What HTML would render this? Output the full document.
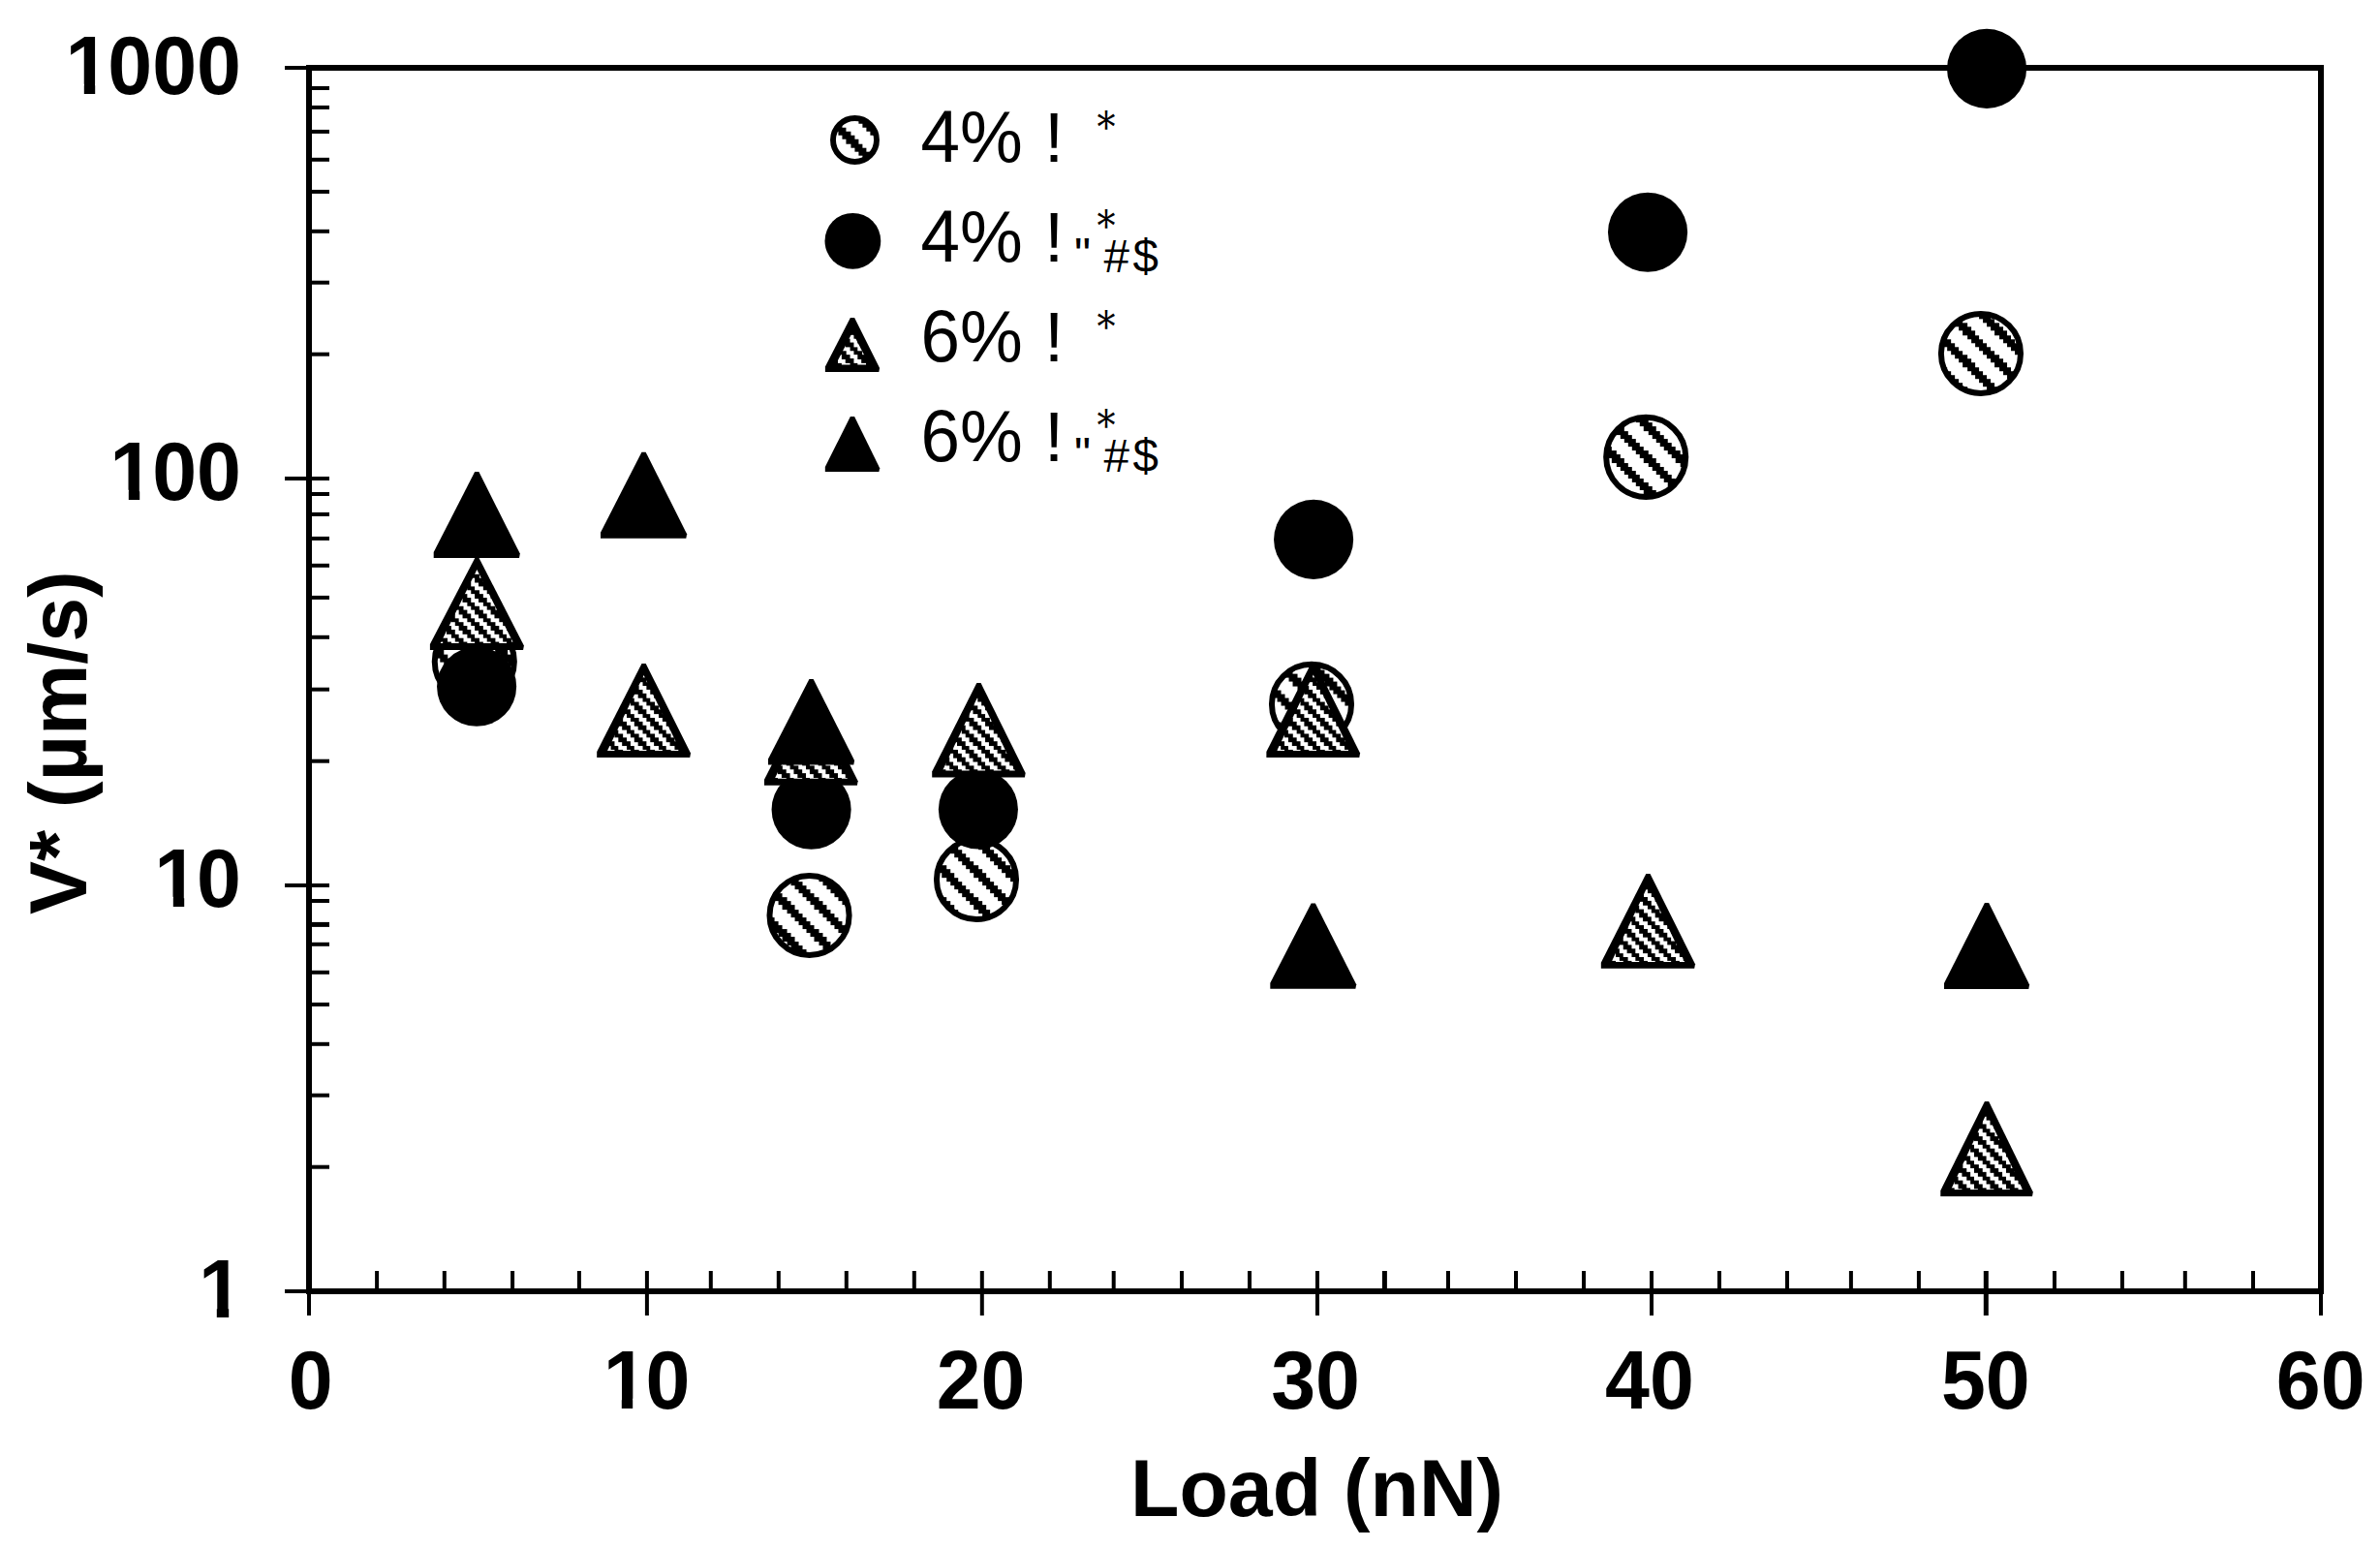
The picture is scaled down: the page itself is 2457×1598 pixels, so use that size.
<!DOCTYPE html>
<html lang="en"><head><meta charset="utf-8"><title>V* vs Load</title>
<style>html,body{margin:0;padding:0;background:#fff}body{width:2457px;height:1598px;overflow:hidden}svg{display:block}.b{font-family:"Liberation Sans",sans-serif;font-weight:700;font-size:82.5px;fill:#000}.r{font-family:"Liberation Sans",sans-serif;font-weight:400;fill:#000}.d{font-family:"DejaVu Serif",serif;font-weight:400;fill:#000}</style></head><body>
<svg width="2457" height="1598" viewBox="0 0 2457 1598">
<defs><pattern id="hw" width="32.9340" height="32.9340" patternUnits="userSpaceOnUse" patternTransform="translate(5.18 0)"><rect width="32.9340" height="32.9340" fill="#fff"/><g fill="#000" shape-rendering="crispEdges"><rect x="0.000" y="0.000" width="4.117" height="4.117"/><rect x="4.117" y="0.000" width="4.117" height="4.117"/><rect x="8.233" y="0.000" width="4.117" height="4.117"/><rect x="4.117" y="4.117" width="4.117" height="4.117"/><rect x="8.233" y="4.117" width="4.117" height="4.117"/><rect x="12.350" y="4.117" width="4.117" height="4.117"/><rect x="8.233" y="8.233" width="4.117" height="4.117"/><rect x="12.350" y="8.233" width="4.117" height="4.117"/><rect x="16.467" y="8.233" width="4.117" height="4.117"/><rect x="12.350" y="12.350" width="4.117" height="4.117"/><rect x="16.467" y="12.350" width="4.117" height="4.117"/><rect x="20.584" y="12.350" width="4.117" height="4.117"/><rect x="16.467" y="16.467" width="4.117" height="4.117"/><rect x="20.584" y="16.467" width="4.117" height="4.117"/><rect x="24.700" y="16.467" width="4.117" height="4.117"/><rect x="20.584" y="20.584" width="4.117" height="4.117"/><rect x="24.700" y="20.584" width="4.117" height="4.117"/><rect x="28.817" y="20.584" width="4.117" height="4.117"/><rect x="24.700" y="24.700" width="4.117" height="4.117"/><rect x="28.817" y="24.700" width="4.117" height="4.117"/><rect x="0.000" y="24.700" width="4.117" height="4.117"/><rect x="28.817" y="28.817" width="4.117" height="4.117"/><rect x="0.000" y="28.817" width="4.117" height="4.117"/><rect x="4.117" y="28.817" width="4.117" height="4.117"/></g></pattern><pattern id="hd" width="16.4670" height="16.4670" patternUnits="userSpaceOnUse" patternTransform="translate(8.7 0)"><rect width="16.4670" height="16.4670" fill="#fff"/><g fill="#000" shape-rendering="crispEdges"><rect x="0.000" y="0.000" width="4.117" height="4.117"/><rect x="4.117" y="0.000" width="4.117" height="4.117"/><rect x="4.117" y="4.117" width="4.117" height="4.117"/><rect x="8.233" y="4.117" width="4.117" height="4.117"/><rect x="8.233" y="8.233" width="4.117" height="4.117"/><rect x="12.350" y="8.233" width="4.117" height="4.117"/><rect x="12.350" y="12.350" width="4.117" height="4.117"/><rect x="0.000" y="12.350" width="4.117" height="4.117"/></g></pattern></defs>
<rect width="2457" height="1598" fill="#fff"/>
<g id="series1">
<circle cx="489.80" cy="683.00" r="41.05" fill="url(#hw)" stroke="#000" stroke-width="6.00"/>
<circle cx="835.55" cy="944.95" r="41.05" fill="url(#hw)" stroke="#000" stroke-width="6.00"/>
<circle cx="1008.00" cy="907.90" r="41.05" fill="url(#hw)" stroke="#000" stroke-width="6.00"/>
<circle cx="1354.00" cy="726.90" r="41.05" fill="url(#hw)" stroke="#000" stroke-width="6.00"/>
<circle cx="1699.20" cy="471.85" r="41.05" fill="url(#hw)" stroke="#000" stroke-width="6.00"/>
<circle cx="2044.95" cy="364.95" r="41.05" fill="url(#hw)" stroke="#000" stroke-width="6.00"/>
</g><g id="series2">
<circle cx="492.10" cy="708.70" r="41.05" fill="#000"/>
<circle cx="837.60" cy="835.70" r="41.05" fill="#000"/>
<circle cx="1009.90" cy="835.50" r="41.05" fill="#000"/>
<circle cx="1356.10" cy="556.90" r="41.05" fill="#000"/>
<circle cx="1701.05" cy="239.80" r="41.05" fill="#000"/>
<circle cx="2051.05" cy="70.90" r="41.05" fill="#000"/>
</g><g id="series3">
<polygon points="490.30,576.00 494.50,576.00 540.90,666.40 540.10,670.90 443.90,670.90 443.90,664.90" fill="#000"/><polygon points="492.40,587.90 530.10,664.00 454.70,664.00" fill="url(#hd)"/>
<polygon points="662.50,685.00 666.70,685.00 713.00,777.40 712.20,781.90 616.20,781.90 616.20,775.90" fill="#000"/><polygon points="664.60,696.90 702.20,775.00 627.00,775.00" fill="url(#hd)"/>
<polygon points="835.25,714.20 839.45,714.20 885.70,806.20 884.90,810.70 789.00,810.70 789.00,804.70" fill="#000"/><polygon points="837.35,726.10 874.90,803.80 799.80,803.80" fill="url(#hd)"/>
<polygon points="1008.35,705.00 1012.55,705.00 1058.70,798.00 1057.90,802.50 962.20,802.50 962.20,796.50" fill="#000"/><polygon points="1010.45,716.90 1047.90,795.60 973.00,795.60" fill="url(#hd)"/>
<polygon points="1353.65,684.60 1357.85,684.60 1404.10,777.40 1403.30,781.90 1307.40,781.90 1307.40,775.90" fill="#000"/><polygon points="1355.75,696.50 1393.30,775.00 1318.20,775.00" fill="url(#hd)"/>
<polygon points="1699.30,902.10 1703.50,902.10 1750.00,995.30 1749.20,999.80 1652.80,999.80 1652.80,993.80" fill="#000"/><polygon points="1701.40,914.00 1739.20,992.90 1663.60,992.90" fill="url(#hd)"/>
<polygon points="2048.95,1137.00 2053.15,1137.00 2098.80,1230.40 2098.00,1234.90 2003.30,1234.90 2003.30,1228.90" fill="#000"/><polygon points="2051.05,1148.90 2088.00,1228.00 2014.10,1228.00" fill="url(#hd)"/>
</g><g id="series4">
<polygon points="490.15,487.10 494.35,487.10 536.80,571.50 536.00,576.00 447.70,576.00 447.70,570.00" fill="#000"/>
<polygon points="662.45,466.70 666.65,466.70 709.10,551.20 708.30,555.70 620.00,555.70 620.00,549.70" fill="#000"/>
<polygon points="835.45,701.00 839.65,701.00 882.10,785.00 881.30,789.50 793.00,789.50 793.00,783.50" fill="#000"/>
<polygon points="1353.65,932.60 1357.85,932.60 1400.20,1016.20 1399.40,1020.70 1311.30,1020.70 1311.30,1014.70" fill="#000"/>
<polygon points="2048.95,931.90 2053.15,931.90 2095.10,1016.40 2094.30,1020.90 2007.00,1020.90 2007.00,1014.90" fill="#000"/>
</g>
<g id="axes" stroke="#000" fill="none" stroke-linecap="butt"><rect x="319.0" y="70.0" width="2077.0" height="1263.0" stroke-width="6"/><line x1="294" y1="70.00" x2="319.0" y2="70.00" stroke-width="4"/><line x1="294" y1="494.00" x2="340.0" y2="494.00" stroke-width="4"/><line x1="294" y1="914.00" x2="340.0" y2="914.00" stroke-width="4"/><line x1="294" y1="1333.00" x2="319.0" y2="1333.00" stroke-width="4"/><line x1="319.0" y1="91.00" x2="340" y2="91.00" stroke-width="4"/><line x1="319.0" y1="110.90" x2="340" y2="110.90" stroke-width="4"/><line x1="319.0" y1="135.90" x2="340" y2="135.90" stroke-width="4"/><line x1="319.0" y1="164.80" x2="340" y2="164.80" stroke-width="4"/><line x1="319.0" y1="197.90" x2="340" y2="197.90" stroke-width="4"/><line x1="319.0" y1="238.80" x2="340" y2="238.80" stroke-width="4"/><line x1="319.0" y1="291.70" x2="340" y2="291.70" stroke-width="4"/><line x1="319.0" y1="365.70" x2="340" y2="365.70" stroke-width="4"/><line x1="319.0" y1="510.00" x2="340" y2="510.00" stroke-width="4"/><line x1="319.0" y1="530.90" x2="340" y2="530.90" stroke-width="4"/><line x1="319.0" y1="555.90" x2="340" y2="555.90" stroke-width="4"/><line x1="319.0" y1="583.80" x2="340" y2="583.80" stroke-width="4"/><line x1="319.0" y1="616.90" x2="340" y2="616.90" stroke-width="4"/><line x1="319.0" y1="657.80" x2="340" y2="657.80" stroke-width="4"/><line x1="319.0" y1="711.70" x2="340" y2="711.70" stroke-width="4"/><line x1="319.0" y1="785.70" x2="340" y2="785.70" stroke-width="4"/><line x1="319.0" y1="930.00" x2="340" y2="930.00" stroke-width="4"/><line x1="319.0" y1="954.40" x2="340" y2="954.40" stroke-width="5"/><line x1="319.0" y1="974.80" x2="340" y2="974.80" stroke-width="4"/><line x1="319.0" y1="1003.80" x2="340" y2="1003.80" stroke-width="4"/><line x1="319.0" y1="1036.90" x2="340" y2="1036.90" stroke-width="4"/><line x1="319.0" y1="1077.80" x2="340" y2="1077.80" stroke-width="4"/><line x1="319.0" y1="1130.70" x2="340" y2="1130.70" stroke-width="4"/><line x1="319.0" y1="1204.70" x2="340" y2="1204.70" stroke-width="4"/><line x1="319.00" y1="1333.0" x2="319.00" y2="1358" stroke-width="4"/><line x1="389.10" y1="1312" x2="389.10" y2="1333.0" stroke-width="4"/><line x1="458.80" y1="1312" x2="458.80" y2="1333.0" stroke-width="4"/><line x1="529.10" y1="1312" x2="529.10" y2="1333.0" stroke-width="4"/><line x1="597.90" y1="1312" x2="597.90" y2="1333.0" stroke-width="4"/><line x1="667.90" y1="1312.0" x2="667.90" y2="1358" stroke-width="4"/><line x1="733.80" y1="1312" x2="733.80" y2="1333.0" stroke-width="4"/><line x1="803.80" y1="1312" x2="803.80" y2="1333.0" stroke-width="4"/><line x1="873.80" y1="1312" x2="873.80" y2="1333.0" stroke-width="4"/><line x1="943.80" y1="1312" x2="943.80" y2="1333.0" stroke-width="4"/><line x1="1013.80" y1="1312.0" x2="1013.80" y2="1358" stroke-width="4"/><line x1="1083.80" y1="1312" x2="1083.80" y2="1333.0" stroke-width="4"/><line x1="1149.70" y1="1312" x2="1149.70" y2="1333.0" stroke-width="4"/><line x1="1220.00" y1="1312" x2="1220.00" y2="1333.0" stroke-width="4"/><line x1="1290.00" y1="1312" x2="1290.00" y2="1333.0" stroke-width="4"/><line x1="1360.00" y1="1312.0" x2="1360.00" y2="1358" stroke-width="4"/><line x1="1429.40" y1="1312" x2="1429.40" y2="1333.0" stroke-width="5"/><line x1="1495.00" y1="1312" x2="1495.00" y2="1333.0" stroke-width="4"/><line x1="1565.00" y1="1312" x2="1565.00" y2="1333.0" stroke-width="4"/><line x1="1635.00" y1="1312" x2="1635.00" y2="1333.0" stroke-width="4"/><line x1="1705.00" y1="1312.0" x2="1705.00" y2="1358" stroke-width="4"/><line x1="1775.00" y1="1312" x2="1775.00" y2="1333.0" stroke-width="4"/><line x1="1845.00" y1="1312" x2="1845.00" y2="1333.0" stroke-width="4"/><line x1="1910.90" y1="1312" x2="1910.90" y2="1333.0" stroke-width="4"/><line x1="1980.90" y1="1312" x2="1980.90" y2="1333.0" stroke-width="4"/><line x1="2050.30" y1="1312.0" x2="2050.30" y2="1358" stroke-width="5"/><line x1="2121.00" y1="1312" x2="2121.00" y2="1333.0" stroke-width="4"/><line x1="2190.90" y1="1312" x2="2190.90" y2="1333.0" stroke-width="4"/><line x1="2255.80" y1="1312" x2="2255.80" y2="1333.0" stroke-width="4"/><line x1="2326.00" y1="1312" x2="2326.00" y2="1333.0" stroke-width="4"/><line x1="2396.00" y1="1333.0" x2="2396.00" y2="1358" stroke-width="4"/></g>
<g id="labels" class="b"><text transform="translate(247.0 97.1) scale(1 1.03)" text-anchor="end"><tspan dx="2.0">1</tspan><tspan dx="-2.0">000</tspan></text><text transform="translate(247.0 515.9) scale(1 1.03)" text-anchor="end"><tspan dx="2.0">1</tspan><tspan dx="-2.0">00</tspan></text><text transform="translate(247.0 935.9) scale(1 1.03)" text-anchor="end"><tspan dx="2.0">1</tspan><tspan dx="-2.0">0</tspan></text><text transform="translate(251.0 1359.8) scale(1 1.03)" text-anchor="end">1</text><text transform="translate(320.7 1454.1) scale(1 1.03)" text-anchor="middle">0</text><text transform="translate(665.6 1454.1) scale(1 1.03)" text-anchor="middle"><tspan dx="2.0">1</tspan><tspan dx="-2.0">0</tspan></text><text transform="translate(1012.6 1454.1) scale(1 1.03)" text-anchor="middle">20</text><text transform="translate(1358.0 1454.1) scale(1 1.03)" text-anchor="middle">30</text><text transform="translate(1702.9 1454.1) scale(1 1.03)" text-anchor="middle">40</text><text transform="translate(2049.8 1454.1) scale(1 1.03)" text-anchor="middle">50</text><text transform="translate(2395.7 1454.1) scale(1 1.03)" text-anchor="middle">60</text><text transform="translate(1359.5 1565) scale(1 1.02)" text-anchor="middle">Load (nN)</text><text transform="translate(89 944) rotate(-90) scale(1 1.02)">V* (µm/s)</text></g>
<g id="one-feet" fill="#fff"><rect x="208.5" y="1349.8" width="15.3" height="12.0"/><rect x="236.2" y="1349.8" width="14.5" height="12.0"/><rect x="71.5" y="86.8" width="15.3" height="12.0"/><rect x="98.2" y="86.8" width="14.5" height="12.0"/><rect x="116.5" y="505.8" width="16.3" height="12.0"/><rect x="144.2" y="505.8" width="14.5" height="12.0"/><rect x="162.5" y="925.8" width="16.3" height="12.0"/><rect x="190.2" y="925.8" width="13.5" height="12.0"/><rect x="626.5" y="1443.8" width="15.3" height="12.0"/><rect x="653.2" y="1443.8" width="14.5" height="12.0"/></g>
<g id="legend"><circle cx="882.50" cy="144.50" r="22.50" fill="url(#hw)" stroke="#000" stroke-width="5.90"/><circle cx="880.40" cy="248.80" r="28.90" fill="#000"/><polygon points="877.90,327.90 882.10,327.90 908.10,379.95 907.30,384.00 851.90,384.00 851.90,378.60" fill="#000"/><polygon points="880.00,342.90 897.30,376.50 862.70,376.50" fill="url(#hd)"/><polygon points="877.90,430.00 882.10,430.00 908.20,483.30 907.40,486.90 851.80,486.90 851.80,482.10" fill="#000"/><text class="r" transform="translate(950.5 167.0) scale(1 1.04)" font-size="72.8">4%</text><text class="r" transform="translate(1078.0 167.0) scale(1 1.0)" font-size="72.8">!</text><text class="d" transform="translate(1141.9 145.65) scale(1 1.15)" font-size="38" text-anchor="middle">*</text><text class="r" transform="translate(950.5 269.8) scale(1 1.04)" font-size="72.8">4%</text><text class="r" transform="translate(1078.0 269.8) scale(1 1.0)" font-size="72.8">!</text><text class="d" transform="translate(1141.9 248.45) scale(1 1.15)" font-size="38" text-anchor="middle">*</text><text class="r" x="1109" y="279.0" font-size="48">&quot;</text><text class="r" x="1139.4" y="281.2" font-size="47.5" letter-spacing="3.6">#$</text><text class="r" transform="translate(950.5 373.2) scale(1 1.04)" font-size="72.8">6%</text><text class="r" transform="translate(1078.0 373.2) scale(1 1.0)" font-size="72.8">!</text><text class="d" transform="translate(1141.9 351.85) scale(1 1.15)" font-size="38" text-anchor="middle">*</text><text class="r" transform="translate(950.5 475.7) scale(1 1.04)" font-size="72.8">6%</text><text class="r" transform="translate(1078.0 475.7) scale(1 1.0)" font-size="72.8">!</text><text class="d" transform="translate(1141.9 454.35) scale(1 1.15)" font-size="38" text-anchor="middle">*</text><text class="r" x="1109" y="484.9" font-size="48">&quot;</text><text class="r" x="1139.4" y="487.1" font-size="47.5" letter-spacing="3.6">#$</text></g>
</svg></body></html>
